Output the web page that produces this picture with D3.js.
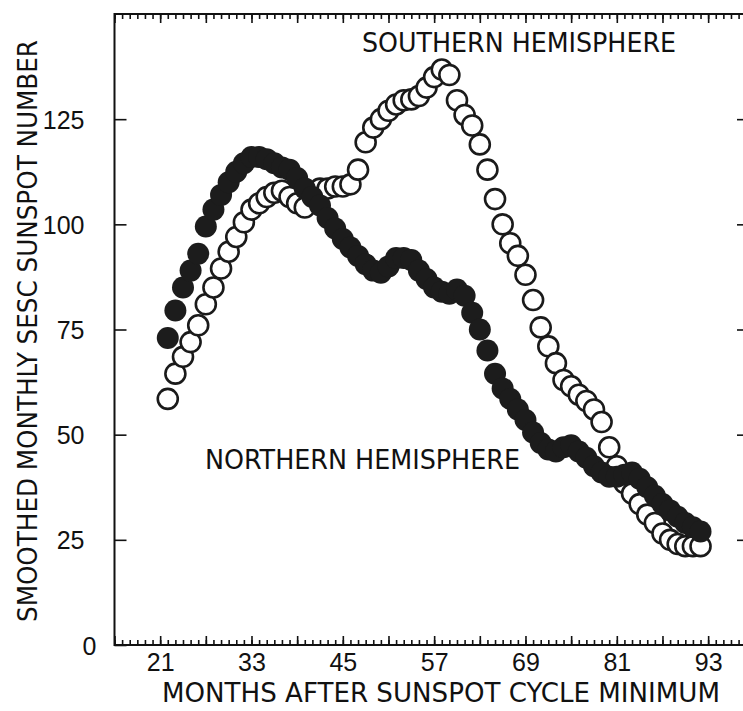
<!DOCTYPE html>
<html>
<head>
<meta charset="utf-8">
<script src="https://cdn.jsdelivr.net/npm/d3@7"></script>
<style>
  body { margin: 0; background: #fff; }
  svg { display: block; }
</style>
</head>
<body>
<div class="chart"></div>
<script>

// Data: months after minimum, 22..92
var months = d3.range(22, 93);

// Northern hemisphere (filled dots)
var northern = [
  73, 79.5, 85, 89, 93, 99.5, 103.5, 107, 110, 112.5,      // 22-31
  114.5, 116, 116, 115.5, 114.5, 113.5, 113, 111, 108.5, 106.5, // 32-41
  104.5, 101.5, 99, 96.5, 94.5, 92.5, 90.5, 89, 88.5, 90,  // 42-51
  92, 92, 91.5, 89, 87, 85, 84, 83.5, 84.5, 83,            // 52-61
  79, 75, 70, 64.5, 61, 58.5, 56, 53.5, 50.5, 48,          // 62-71
  46.5, 46, 47, 47.5, 46, 44.5, 42.5, 41, 40, 40,          // 72-81
  40.5, 41, 39.5, 37.5, 35.5, 33.5, 32, 30.5, 29, 28,      // 82-91
  27                                                      // 92
];

// Southern hemisphere (open circles)
var southern = [
  58.5, 64.5, 68.5, 72, 76, 81, 85, 89.5, 93.5, 97,        // 22-31
  100.5, 103.5, 105, 106.5, 107.5, 108, 106.5, 105, 104, 107.5, // 32-41
  108.5, 108.5, 109, 109, 109.5, 113, 119.5, 123, 125, 127, // 42-51
  128.5, 129.5, 129.7, 130.5, 132.5, 135, 136.8, 135.5, 129.5, 126, // 52-61
  123.5, 119, 113, 106, 100, 95.5, 92.5, 88, 82, 75.5,     // 62-71
  71, 67, 63, 61.5, 59.5, 58, 56, 53, 47, 42.5,            // 72-81
  38.5, 36, 33.5, 31, 29, 26.5, 25, 24, 23.5, 23.5,        // 82-91
  23.5                                                    // 92
];

var yTicks = [0, 25, 50, 75, 100, 125, 150];
var xLabels = [21, 33, 45, 57, 69, 81, 93];

// Layout
var width = 743;
var height = 711;
var plotL = 114.5, plotR = 750, plotT = 14, plotB = 645;

var svg = d3.select(".chart").append("svg")
    .attr("width", width)
    .attr("height", height);

var x = d3.scaleLinear().domain([15, 98.5]).range([plotL, plotR]);
var y = d3.scaleLinear().domain([0, 150]).range([plotB, plotT]);

var tickFont = "'Liberation Sans', Arial, sans-serif";
var titleFont = "'DejaVu Sans Condensed', 'Liberation Sans Narrow', sans-serif";

// frame
svg.append("rect")
    .attr("x", plotL).attr("y", plotT)
    .attr("width", plotR - plotL).attr("height", plotB - plotT)
    .attr("fill", "none")
    .attr("stroke", "#111")
    .attr("stroke-width", 2);

// minor month ticks, bottom and top
var allMonths = d3.range(15, 99);
var majorMonths = d3.range(15, 99, 6);

svg.append("g")
    .attr("transform", "translate(0," + plotB + ")")
    .call(d3.axisTop(x).tickValues(allMonths).tickSize(5).tickFormat(""));
svg.append("g")
    .attr("transform", "translate(0," + plotB + ")")
    .call(d3.axisTop(x).tickValues(majorMonths).tickSize(9).tickFormat(""));
svg.append("g")
    .attr("transform", "translate(0," + plotT + ")")
    .call(d3.axisBottom(x).tickValues(allMonths).tickSize(5).tickFormat(""));
svg.append("g")
    .attr("transform", "translate(0," + plotT + ")")
    .call(d3.axisBottom(x).tickValues(majorMonths).tickSize(9).tickFormat(""));

// x labels
var xAxis = svg.append("g")
    .attr("class", "xlab")
    .attr("transform", "translate(0," + plotB + ")")
    .call(d3.axisBottom(x).tickValues(xLabels).tickSize(0).tickPadding(8));

// y axis left, inward ticks
var yAxis = svg.append("g")
    .attr("class", "ylab")
    .attr("transform", "translate(" + plotL + ",0)")
    .call(d3.axisLeft(y).tickValues(yTicks.slice(0, 6)).tickSize(-12).tickPadding(30));

// y axis right, inward ticks
svg.append("g")
    .attr("transform", "translate(" + plotR + ",0)")
    .call(d3.axisRight(y).tickValues(yTicks.slice(1, 6)).tickSize(-13).tickFormat(""));

svg.selectAll(".domain").remove();
svg.selectAll(".tick line").attr("stroke", "#111").attr("stroke-width", 1.6);

svg.selectAll(".xlab text, .ylab text")
    .attr("font-family", tickFont)
    .attr("font-size", 25)
    .attr("fill", "#111");
yAxis.selectAll("text").attr("dy", "0.36em");
// the zero sits a little further right in the original
yAxis.selectAll(".tick").filter(function(d) { return d === 0; })
    .select("text").attr("dx", 12);

// southern hemisphere: open circles
svg.append("g").selectAll("circle")
    .data(months)
    .enter().append("circle")
    .attr("cx", function(d) { return x(d); })
    .attr("cy", function(d, i) { return y(southern[i]); })
    .attr("r", 10)
    .attr("fill", "#fff")
    .attr("stroke", "#1a1a1a")
    .attr("stroke-width", 2.6);

// northern hemisphere: filled dots
svg.append("g").selectAll("circle")
    .data(months)
    .enter().append("circle")
    .attr("cx", function(d) { return x(d); })
    .attr("cy", function(d, i) { return y(northern[i]); })
    .attr("r", 11)
    .attr("fill", "#1c1c1c");

// labels
function label(txt, xx, yy, len) {
  svg.append("text")
      .attr("x", xx).attr("y", yy)
      .attr("font-family", titleFont)
      .attr("font-size", 26)
      .attr("fill", "#111")
      .attr("textLength", len)
      .attr("lengthAdjust", "spacingAndGlyphs")
      .text(txt);
}
label("SOUTHERN HEMISPHERE", 362, 52, 314);
label("NORTHERN HEMISPHERE", 205, 469, 315);
label("MONTHS AFTER SUNSPOT CYCLE MINIMUM", 162, 702, 558);

svg.append("text")
    .attr("transform", "translate(37,622) rotate(-90)")
    .attr("font-family", titleFont)
    .attr("font-size", 26)
    .attr("fill", "#111")
    .attr("textLength", 582)
    .attr("lengthAdjust", "spacingAndGlyphs")
    .text("SMOOTHED MONTHLY SESC SUNSPOT NUMBER");

</script>
</body>
</html>
